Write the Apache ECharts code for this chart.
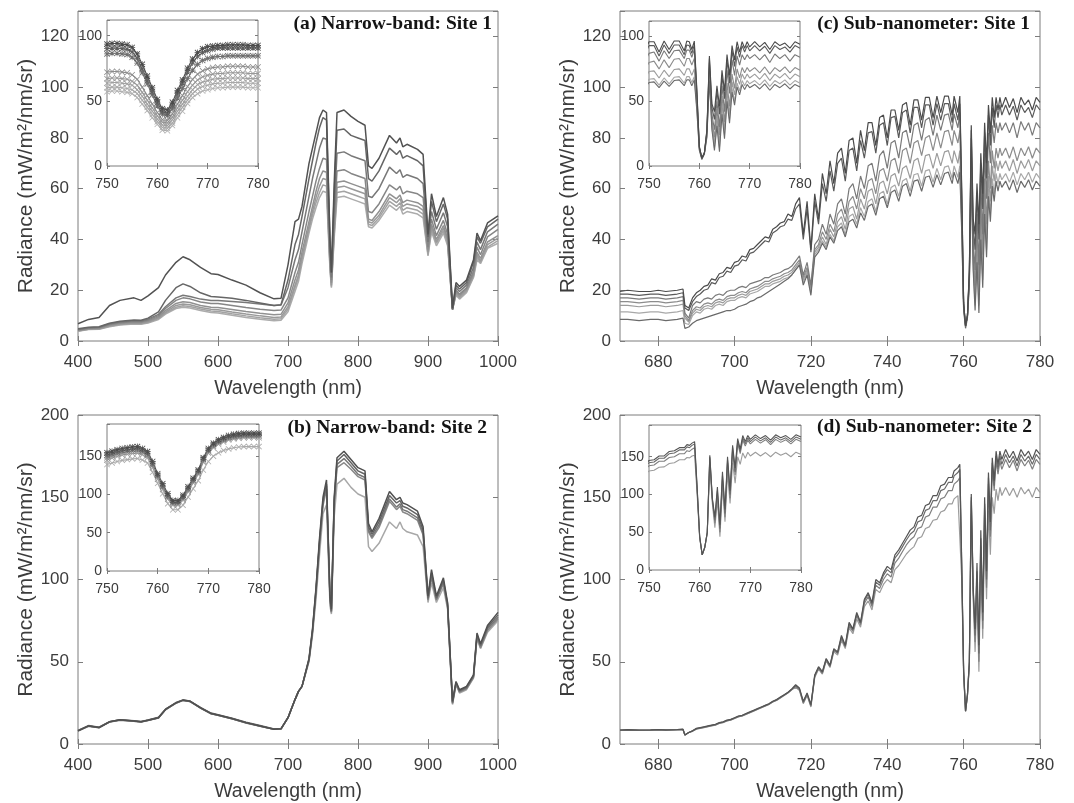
<!DOCTYPE html>
<html><head><meta charset="utf-8">
<script src="https://cdn.jsdelivr.net/npm/echarts@6/dist/echarts.min.js"></script>
<style>html,body{margin:0;padding:0;background:#fff}#c{width:1074px;height:803px}</style>
</head><body><div id="c"></div>
<script>
// ---------- Narrow-band wavelengths (panels a, b) ----------
const NB_X = [400,415,430,445,460,480,490,500,515,525,540,550,560,575,590,600,620,640,660,680,690,
  700,710,715,720,730,735,740,745,750,755,
  760,762,766,770,780,790,800,810,815,820,
  830,845,855,860,864,870,885,893,900,905,
  912,922,928,935,940,945,955,965,970,975,
  985,1000];
// Panel (a) site 1 narrow-band spectra
const A1 = [6.8,8.5,9.3,14,16,17,16,17.8,21,26,31,33.2,32,29,26.5,26.2,24,22,19,16.6,16.8,
  30,47,48,53,70,76,82,88,91,90, 40,27,62,90,91,88.5,86.5,85,69,68,
  72,81,78,80,76.5,77.5,75.5,73.5,42,58, 49,56.5,50,13,23,21.5,24,32,42.5,39.5, 46.5,49.3];
const A2 = [4.8,5.4,5.6,7,7.8,8.3,8.2,9,11.5,16,21,22.5,21.5,19,17.5,17.3,16.8,16,15,14,14.3,
  24,38,42,49,64,71,78,84,88,87, 39,27,58,83,83.5,81,80,79,64,63,
  67,76,73.5,75,72,73,71,69,41,55, 47,54,48,12.5,22,20.5,23,31,41,38.5, 45,48];
const A3 = [4.5,5.2,5.4,6.8,7.5,8,7.9,8.6,10.5,13.5,17,18,17.5,16.5,16,16,15.6,15.2,14.6,14,14.2,
  21,32,36,43,57,64,70,76,80,79.5, 36,25,52,74,74.5,73,72,71,57,56.5,
  60,68.5,66,67.5,64.5,65.5,64,62,39,51, 44,50.5,45,12.5,21,19.5,22,29,39,36, 43,46];
const A4 = [4.3,5,5.2,6.5,7.2,7.7,7.6,8.2,10,12.8,16,17,16.6,15.4,14.8,14.8,14,13.2,12.5,12,12.2,
  17,27,31,38,51,57,63,68,72,71.5, 33,24,48,67,67.5,66,65,64,51,50.5,
  54,61.5,59.5,61,58,59,58,56.5,37,48, 41.5,47.5,42,12.5,20,18.5,21,27.5,37,34, 41,44];
const A5 = [4.2,4.9,5,6.3,7,7.4,7.3,7.9,9.5,12,14.8,15.5,15.2,14,13.3,13.2,12.4,11.6,10.9,10.3,10.5,
  15,24,28,35,47,53,59,64,67,66.5, 31,23,45,62.5,63,62,61,60,48,47.5,
  51,58,56,57.5,54.5,55.5,54.5,53,36,46, 40,45.5,40.5,12.5,19.5,18,20.5,26.5,35,32.5, 39,41.5];
const A6 = [4,4.7,4.8,6,6.7,7.1,7,7.6,9.1,11.4,14,14.6,14.3,13.2,12.5,12.3,11.4,10.6,9.9,9.3,9.5,
  13.5,22,26,33,45,51,56.5,61,64,63.5, 30,22,43.5,60.5,61,60,59,58,47,46.5,
  49.5,56.5,54.5,56,53,54,53,51.5,35,45, 39,44.5,39.5,12.5,19,17.5,20,26,34,31.5, 38,40.5];
const A7 = [3.9,4.6,4.7,5.8,6.5,6.9,6.8,7.3,8.8,11,13.3,13.9,13.6,12.6,11.8,11.6,10.7,9.9,9.2,8.6,8.8,
  12.5,21,25,32,44,49.5,54.5,58.5,61.5,61, 29,21.5,42,58.5,59,58,57,56,46,45.5,
  48.5,55,53,54.5,51.5,52.5,51.5,50,34,44, 38.5,43.5,38.5,12.5,18.5,17,19.5,25.5,33,31, 37,39.5];
const A8 = [3.8,4.5,4.6,5.6,6.3,6.7,6.6,7.1,8.5,10.6,12.8,13.3,13,12,11.2,11,10.1,9.3,8.6,8,8.2,
  11.5,19.5,23.5,30.5,42.5,48,52.5,56.5,59,58.5, 28,21,40.5,56.5,57,56,55,54,45,44.5,
  47.5,53.5,51.5,53,50,51,50,48.5,33.5,43, 37.5,42.5,37.5,12.5,18,16.5,19,25,32,30.5, 36.5,38.5];
// Panel (b) site 2 narrow-band spectra
const B1 = [8,11,10,13.5,14.7,14,13.5,14.5,16,21,25,26.7,26,22,18.6,17.6,15.5,13,11,9,9.2,
  16,27,32,35,52,70,95,125,150,160.5, 90,82,150,174,178,173,168,166,134,129,
  137,153.5,148.5,150,146.5,145.5,141.5,132,90,106, 90,101,86,26,38,33,35,42,67.5,61, 72,80];
const B2 = [8.2,11.2,10.2,13.6,14.8,14.2,13.7,14.6,16.2,21.2,25.2,26.8,26.1,22.2,18.8,17.8,15.6,13.2,11.2,9.2,9.4,
  16,27,32,35,51.5,69,94,123,148,158, 89,81,148,172,176,171,166,164,132,127.5,
  135,151,146.5,148,144.5,143.5,139.5,130,89,104, 89,99.5,85,25.5,37.5,32.5,34.5,41.5,66.5,60, 71,78.5];
const B3 = [7.9,10.8,9.9,13.3,14.5,13.9,13.4,14.3,15.8,20.8,24.8,26.5,25.8,21.8,18.4,17.4,15.3,12.8,10.8,8.9,9.1,
  16,27,32,35,51,68.5,93,122,147,157, 88,80.5,147,170,173.5,169,164,162,130,126,
  133,149,144,146,142.5,141.5,137.5,128,88,102.5, 88,98.5,84,25,37,32,34,41,66,59.5, 70,77];
const B4 = [8.1,11,10.1,13.5,14.6,14,13.5,14.4,16,21,25,26.6,25.9,22,18.5,17.5,15.4,12.9,10.9,9,9.2,
  16,27,32,35,51,68,92,121,145,155, 87,80,145,168,171,167,162.5,160.5,129,125,
  131.5,147.5,142.5,144.5,141,140,136,127,87.5,101.5, 87.5,97.5,83.5,24.5,36.5,31.5,33.5,40.5,65,58.5, 69,76];
const B5 = [8,10.9,10,13.4,14.6,13.9,13.4,14.4,15.9,20.9,24.9,26.5,25.9,21.9,18.5,17.5,15.4,12.9,10.9,9,9.2,
  16,27,32,35,50,66,88,115,140,145.5, 84,79,138,158,161.5,156,152,150,120,117,
  122,135,131,135,131,129,127,120,86,98, 86,95,82,24,36,31,33,40,64,58, 68,75];

// ---------- Narrow-band insets (750-780 nm, 1 nm) ----------
const NB_IX = [750,751,752,753,754,755,756,757,758,759,760,761,762,763,764,765,766,767,768,769,770,771,772,773,774,775,776,777,778,779,780];
const AI1 = [93.5,94,94,93.5,93, 91,86,78,69,60, 51,44,43,49,58, 66,75,82,87,90, 91.5,92,92.5,92.5,93, 93,93,93,92.5,92.5, 92.5];
const AI2 = [90,90.5,90.5,90,89.5, 87.5,82.5,74.5,65.5,57, 48.5,41.5,40.5,46.5,55.5, 63.5,72,79,84,87, 88.5,89.5,90.5,90.5,90.5, 90.5,90.5,90.5,90.5,90.5, 90.5];
const AI3 = [86,86.5,86.5,86,85.5, 83.5,79,71.5,63,54.5, 46,39.5,38.5,44,52, 59.5,67,73.5,78,81, 82.5,83.5,84,84,84.5, 84.5,84.5,84.5,84.5,84.5, 84.5];
const AI4 = [72,72.5,72.5,72,71.5, 70,66.5,60.5,54,47.5, 41,35.5,35,40,47.5, 54,61,66.5,70.5,73, 74.5,75.5,76,76,76.5, 76.5,76.5,76.5,76,76, 76];
const AI5 = [67,67.5,67.5,67,66.5, 65,62,56.5,50.5,44.5, 38.5,33.5,33,37.5,44.5, 50.5,57,62,66,68.5, 69.5,70.5,71,71,71.5, 71.5,71.5,71.5,71,71, 71];
const AI6 = [63.5,64,64,63.5,63, 62,58.5,53.5,47.5,42, 36,31.5,31,35.5,42, 47.5,53.5,58.5,62.5,64.5, 65.5,66.5,67,67,67.5, 67.5,67.5,67.5,67,67, 67];
const AI7 = [60,60.5,60.5,60,59.5, 58.5,55.5,50.5,45,39.5, 34,29.5,29,33,39.5, 45,50.5,55.5,59,61, 62,63,63.5,63.5,64, 64,64,64,63.5,63.5, 63.5];
const AI8 = [57,57.5,57.5,57,56.5, 55.5,52.5,47.5,42.5,37, 32,27.5,27,31,37, 42,48,52.5,55.5,57.5, 58.5,59.5,60,60,60.5, 60.5,60.5,60.5,60,60, 60];
const BI1 = [154.5,156.5,158.5,160,161, 162,162.5,160,156,143, 127,114,101,92,92, 99,110,121,132,148, 160,167,171.5,174.5,177, 178.5,179.5,180,180,180, 180];
const BI2 = [151,153,155,157,158, 159,159.5,157,153,140, 125,111,98,90,90, 96.5,107.5,119,130,146, 158,165,169.5,172.5,175, 176.5,177.5,178,178,178, 178];
const BI3 = [148,150.5,152.5,154.5,155.5, 156.5,157,155,151,138, 123,109,96,88,88, 94.5,105.5,117,128,144, 156,163,167.5,170.5,173, 174.5,175.5,176,176,176, 176];
const BI4 = [145,147.5,149.5,151.5,152.5, 153.5,154,152,148,135, 120,106.5,94,86,86, 92.5,103.5,115,126,142, 154,161,165.5,168.5,171, 172.5,173.5,174,174,174, 174];
const BI5 = [139,141,143,144.5,145.5, 146.5,147,145,141,129, 114.5,101,88,80,80, 86,96.5,107.5,118,132, 143,150,154.5,157.5,159.5, 161,162,162.5,162.5,162.5, 162.5];

// ---------- Sub-nanometer wavelengths (panels c, d) ----------
const SN_X = [670,672,675,678,680,682,685,686.5,687,688,
  689,690,691,692,693,694,695,696,697,698,699,700,701,702,703,704,705,706,707,708,709,710,711,712,713,714,715,716,717,
  718,719,720,721,722,723,724,725,726,727,728,729,730,731,732,733,734,735,736,737,738,739,740,741,742,743,744,745,746,747,748,749,750,751,752,753,754,755,756,757,
  757.5,758,758.5,759,759.5,760,760.5,761,761.5,762,762.5,763,763.5,764,764.5,765,765.5,766,766.5,767,767.5,768,768.5,769,769.5,770,
  771,772,773,774,775,776,777,778,779,780];
// Panel (c) site 1 sub-nanometer spectra
const C1 = [19.5,20,19.5,19.5,20,19.5,20,20.5,14,13,
  17,19,20,21.5,22,24.5,24,26.5,27,29, 28.5,31,31.5,33.5,33,36,36.5,38,39.5,41, 40.5,44,45,46.5,47,50,49,54,56.5,
  42,55,36,58,48,66,58,71,62,74, 76,66,79,80,70,83,75,86,86,77, 88,89,80,91,91,83,93,94,85,95, 95,87,96,96,88,96.5,90,96.5,96.5,89,
  96.5,96,90,96.5,60,15,6,10,28,85, 48,42,62,46,74,58,86,70,93,82, 96,88,96,91,96,92,
  96,92,95.5,90,96,93,95,91,96,94];
const C2 = [18.5,18.5,18,18.5,18.5,18,18.5,19,13,12,
  15.5,17.5,18.5,20,20.5,23,22.5,25,25.5,27.5, 27,29.5,30,32,31.5,34.5,35,36.5,38,39.5, 39,42.5,43.5,45,45.5,48,47.5,52,54,
  40,52,35,55,46,62,55,67,59,70, 72,63,75,76,67,79,72,82,82.5,74, 85,86,77,88,88.5,80,90,91,82,92, 92,84,93,93,85,93.5,87,93.5,93.5,86,
  93.5,93,87,93.5,58,15,6,10,27,83, 45,36,58,40,70,52,82,64,89,77, 92,84,93,88,93,89,
  93,89,92.5,87,93,90,92,88,93,91];
const C3 = [17,17,16.5,17,17,16.5,17,17.5,11,9,
  14,15.5,15,16.5,17,16.5,18,18.5,18,19.5, 20,20,21,21.5,21,22.5,23,23.5,24,25, 25,26,26.5,27,28,28.5,29.5,31.5,33.5,
  26,31,22,38,40,46,42,50,46,54, 56,50,60,62,56,65,60,69,70,63, 73,75,68,78,79,72,82,83,76,85, 86,79,87,88,81,89,83,89,89.5,83,
  89.5,89.5,84,90,55,14,6,10,26,80, 40,28,50,30,62,42,74,56,82,70, 85,78,86,82,86,83,
  86,82,86,80,86.5,83,86,81,86,84];
const C4 = [15.5,15.5,15,15.5,15.5,15,15.5,16,10,8,
  12,13.5,13,14.5,15,14.5,16,16.5,16,17.5, 18,18,19,19.5,19,20.5,21,21.5,22.5,23.5, 23.5,24.5,25,25.5,26.5,27,28,30,32,
  25,29,21,36,38,43,40,46,43,50, 52,47,55,57,52,60,56,63,64,58, 67,68,63,71,72,66,75,76,70,78, 79,73,80,81,75,82,76,82.5,83,77,
  83,83,78,83,52,14,6,10,25,76, 36,22,44,24,54,34,64,46,71,60, 75,68,76,72,76,73,
  76,72,76.5,71,76,73,76.5,72,76,74];
const C5 = [14,14,13.5,14,14,13.5,14,14.5,9,7.5,
  11,12.5,12,13.5,14,13.5,15,15.5,15,16.5, 17,17,18,18.5,18,19.5,20,20.5,21.5,22.5, 22.5,23.5,24,24.5,25.5,26,27,29,31,
  24,28,20,35,37,41,38,44,41,47, 49,44,52,53,48,56,52,59,60,54, 62,63,58,65,66,61,68,69,64,71, 72,66,73,73.5,68,74,69,74.5,75,70,
  75,75,70,75,48,13,6,10,24,72, 33,17,38,18,48,28,58,40,65,55, 69,63,71,67,71,68,
  71,67,71.5,66,71,68,71.5,67,71,69];
const C6 = [11.5,11.5,11,11.5,11.5,11,11.5,12,7,6.5,
  10,11.5,11,12.5,13,12.5,14,14.5,14,15.5, 16,16,17,17.5,17,18.5,19,19.5,20.5,21.5, 21.5,22.5,23,23.5,24.5,25,26,28,30,
  23,27,19,34,36,39.5,37,42,39.5,45, 46.5,42,49,50,46,52.5,49,55,56,51, 58,59,54,60.5,61.5,57,63,64,59,65.5, 66,61,67,67.5,62.5,68,63.5,68.5,69,64,
  69,69,64.5,69,45,13,6,10,23,68, 30,14,34,14,43,24,53,36,60,50, 64,58,66,62,66,63.5,
  66,62.5,66.5,61.5,66,63.5,66.5,62.5,66,64];
const C7 = [8.5,8.5,8,8.5,8.5,8,8.5,9,5,5.5,
  7,8,8.5,9,9.5,10,10.5,11,11.5,12, 12,12.5,13.5,14,14.5,15.5,16,17,17.5,18.5, 19.5,20.5,21.5,22.5,23.5,24.5,26,28,30,
  22,26,18,33,35,38.5,36,41,38.5,43.5, 45,41,47,48,44.5,50.5,47.5,53,54,49.5, 56,57,52.5,58.5,59.5,55,61,62,57,63, 63.5,59,64.5,65,60.5,65.5,61.5,66,66.5,62,
  66.5,66.5,62,66.5,43,12,5,9,22,66, 28,12,31,11,40,21,50,33,57,47, 61,55,63,59,63,60.5,
  63,59.5,63.5,58.5,63,60.5,63.5,59.5,63,61];
// Panel (d) site 2 sub-nanometer spectra
const D1 = [8.5,8.7,8.5,8.6,8.8,8.6,8.8,9,5.5,7,
  8,9.5,10,10.5,11,11.5,12,13,13.5,14.5, 15,16,17,17.5,18.5,19.5,20.5,21.5,22.5,23.5, 24.5,26,27,28.5,30,31.5,33.5,36,34,
  26,31,24,42,47,44,52,48,58,56, 66,60,74,70,80,74,88,92,86,100, 98,104,108,106,115,118,122,126,130,132, 138,139,145,146,151,151,157,158,162,162,
  166,165,168,170,110,45,20,30,50,152, 95,70,110,60,130,80,150,105,165,135, 174,160,178,170,178,173,
  179,174,178,172,179,175,178,173,179,176];
const D2 = [8.4,8.6,8.4,8.5,8.7,8.5,8.7,8.9,5.5,7,
  8,9.3,9.8,10.3,10.8,11.3,11.8,12.8,13.3,14.3, 14.8,15.8,16.8,17.3,18.3,19.3,20.3,21.3,22.3,23.3, 24.3,25.8,26.8,28.3,29.8,31.3,33.3,35.5,33.5,
  25.5,30.5,23.5,41.5,46.5,43.5,51.5,47.5,57.5,55.5, 65,59.5,73,69.5,79,73.5,87,91,85,98.5, 96.5,102.5,106,104,113,116,120,124,127.5,129.5, 135,136,142,143,148,148,154,155,159,159,
  163,162,165,167,108,44,20,30,50,150, 94,66,105,55,125,75,146,100,162,130, 171,157,175,167,175,170,
  176,171,175,169,176,172,175,170,176,173];
const D3 = [8.3,8.5,8.3,8.4,8.6,8.4,8.6,8.8,5.5,7,
  7.8,9.1,9.6,10.1,10.6,11.1,11.6,12.6,13.1,14.1, 14.6,15.6,16.6,17.1,18.1,19.1,20.1,21.1,22.1,23.1, 24.1,25.6,26.6,28.1,29.6,31.1,33.1,35,33,
  25,30,23,41,46,43,51,47,57,55, 64,59,72,68.5,78,72.5,85.5,89.5,83.5,96.5, 94.5,100,103.5,101.5,110,113,117,121,124,126, 131,132,138,139,144,144,149,150,154,154,
  158,157,160,162,105,43,20,30,49,148, 92,62,100,50,120,70,142,95,158,126, 168,154,172,164,172,167,
  173,168,172.5,166,173,169,172.5,167,173,170];
const D4 = [8.2,8.4,8.2,8.3,8.5,8.3,8.5,8.7,5.5,7,
  7.7,9,9.5,10,10.5,11,11.5,12.5,13,14, 14.5,15.5,16.5,17,18,19,20,21,22,23, 24,25.5,26.5,28,29.5,31,33,34.5,32.5,
  24.5,29.5,22.5,40.5,45.5,42.5,50.5,46.5,56,54, 63,58,70.5,67,76,71,83.5,87,81.5,94, 92,97,100,98,106,108.5,112,115.5,118,120, 125,126,131,132,136,136.5,141,142,146,146,
  149,148.5,151,152,100,42,20,29,48,140, 88,56,92,44,110,64,128,88,142,115, 150,140,155,148,156,151,
  156,151,155.5,150,156,152,155,150,156,153];

// ---------- Tick values and labels ----------
const NB_XTICKS = [400,500,600,700,800,900,1000];
const SN_XTICKS = [680,700,720,740,760,780];
const INSET_XTICKS = [750,760,770,780];
const TITLES = ['(a) Narrow-band: Site 1','(b) Narrow-band: Site 2','(c) Sub-nanometer: Site 1','(d) Sub-nanometer: Site 2'];
const X_NAME = 'Wavelength (nm)';
const Y_NAME = 'Radiance (mW/m\u00B2/nm/sr)';

// ---------- Build chart ----------
const FONT = "'Liberation Sans', Arial, sans-serif";
const BOX = '#7c7c7c', LBL = '#3c3c3c';
const grids = [], xAxes = [], yAxes = [], series = [];

function panel(p) {
  const gi = grids.length;
  const inset = !!p.inset;
  const zz = inset ? 11 : 1;
  grids.push({left:p.left, top:p.top, width:p.width, height:p.height, show:true,
    borderColor:BOX, borderWidth:1, backgroundColor:'#fff', z: inset ? 10 : 0});
  const fs = inset ? 14 : 17;
  const tl = inset ? 3 : 5;
  const tick = (vals) => ({show:true, inside:true, length:tl, lineStyle:{color:BOX, width:1},
    customValues: vals});
  const xlab = {show:true, color:LBL, fontFamily:FONT, fontSize:fs, margin: inset ? 11 : 13,
    customValues: p.xticks, formatter: v => String(v)};
  xAxes.push({gridIndex:gi, type:'value', position:'bottom', min:p.xmin, max:p.xmax, z:zz,
    axisLine:{show:false}, axisTick:tick(p.xticks), axisLabel:xlab, splitLine:{show:false},
    name: inset ? '' : X_NAME, nameLocation:'middle', nameGap:38,
    nameTextStyle:{color:LBL, fontFamily:FONT, fontSize:19.5}});
  xAxes.push({gridIndex:gi, type:'value', position:'top', min:p.xmin, max:p.xmax, z:zz,
    axisLine:{show:false}, axisTick:tick(p.xticks), axisLabel:{show:false}, splitLine:{show:false}});
  const yint = p.yint;
  yAxes.push({gridIndex:gi, type:'value', position:'left', min:0, max:p.ymax, interval:yint, z:zz,
    axisLine:{show:false}, axisTick:{show:true, inside:true, length:tl, lineStyle:{color:BOX}},
    axisLabel:{color:LBL, fontFamily:FONT, fontSize:fs, margin: inset ? 5 : 9,
      formatter: v => (Math.abs(v % yint) < 1e-9 ? String(v) : '')},
    splitLine:{show:false},
    name: inset ? '' : Y_NAME, nameLocation:'middle', nameGap:35,
    nameTextStyle:{color:LBL, fontFamily:FONT, fontSize:21}});
  yAxes.push({gridIndex:gi, type:'value', position:'right', min:0, max:p.ymax, interval:yint, z:zz,
    axisLine:{show:false}, axisTick:{show:true, inside:true, length:tl, lineStyle:{color:BOX}},
    axisLabel:{show:false}, splitLine:{show:false}});
  return {xi: xAxes.length - 2, yi: yAxes.length - 2, z: inset ? 12 : 2};
}

function pts(xs, ys) { return xs.map((x, i) => [x, ys[i]]); }
function addLine(ax, xs, ys, color, w, extra) {
  series.push(Object.assign({type:'line', xAxisIndex:ax.xi, yAxisIndex:ax.yi, data:pts(xs, ys),
    symbol:'none', showSymbol:false, lineStyle:{color:color, width:w}, itemStyle:{color:color},
    z:ax.z, silent:true, animation:false, clip:true, emphasis:{disabled:true}}, extra || {}));
}
const STAR = 'path://M4.4,0L5.6,0L5.6,10L4.4,10Z M0,4.4L10,4.4L10,5.6L0,5.6Z M0,1L1,0L5,4L9,0L10,1L6,5L10,9L9,10L5,6L1,10L0,9L4,5Z';
const XMARK = 'path://M0,0.9L0.9,0L5,4.1L9.1,0L10,0.9L5.9,5L10,9.1L9.1,10L5,5.9L0.9,10L0,9.1L4.1,5Z';
const mk = (sym) => ({symbol:sym, showSymbol:true, symbolSize:6});

// Panel (a)
const pa = panel({left:78, top:11, width:420, height:330, xmin:400, xmax:1000, xticks:NB_XTICKS, ymax:130, yint:20});
[[A8,'#acacac'],[A7,'#a3a3a3'],[A6,'#9a9a9a'],[A5,'#919191'],[A4,'#868686'],[A3,'#787878'],[A2,'#666666'],[A1,'#525252']]
  .forEach(([d, c]) => addLine(pa, NB_X, d, c, 1.5));
const pai = panel({left:107, top:20, width:151, height:146, xmin:750, xmax:780, xticks:INSET_XTICKS, ymax:112, yint:50, inset:true});
[[AI8,'#b0b0b0',XMARK],[AI7,'#a8a8a8',XMARK],[AI6,'#a0a0a0',XMARK],[AI5,'#989898',XMARK],[AI4,'#8c8c8c',XMARK],[AI3,'#6e6e6e',STAR],[AI2,'#5e5e5e',STAR],[AI1,'#4a4a4a',STAR]]
  .forEach(([d, c, s]) => addLine(pai, NB_IX, d, c, 1.1, mk(s)));

// Panel (b)
const pb = panel({left:78, top:415, width:420, height:330, xmin:400, xmax:1000, xticks:NB_XTICKS, ymax:200, yint:50});
[[B5,'#a8a8a8'],[B4,'#888888'],[B3,'#777777'],[B2,'#646464'],[B1,'#505050']]
  .forEach(([d, c]) => addLine(pb, NB_X, d, c, 1.5));
const pbi = panel({left:107, top:424, width:152, height:147, xmin:750, xmax:780, xticks:INSET_XTICKS, ymax:192, yint:50, inset:true});
[[BI5,'#aaaaaa',XMARK],[BI4,'#999999',XMARK],[BI3,'#858585',XMARK],[BI2,'#666666',STAR],[BI1,'#4c4c4c',STAR]]
  .forEach(([d, c, s]) => addLine(pbi, NB_IX, d, c, 1.1, mk(s)));

// Panel (c)
const pc = panel({left:620, top:11, width:420, height:330, xmin:670, xmax:780, xticks:SN_XTICKS, ymax:130, yint:20});
const cLines = [[C6,'#a8a8a8'],[C5,'#9c9c9c'],[C4,'#8c8c8c'],[C3,'#7a7a7a'],[C7,'#6a6a6a'],[C2,'#5a5a5a'],[C1,'#4b4b4b']];
cLines.forEach(([d, c]) => addLine(pc, SN_X, d, c, 1.2));
const pci = panel({left:649, top:21, width:151, height:145, xmin:750, xmax:780, xticks:INSET_XTICKS, ymax:112, yint:50, inset:true});
cLines.forEach(([d, c]) => addLine(pci, SN_X, d, c, 1.1));

// Panel (d)
const pd = panel({left:620, top:415, width:420, height:330, xmin:670, xmax:780, xticks:SN_XTICKS, ymax:200, yint:50});
const dLines = [[D4,'#9c9c9c'],[D3,'#808080'],[D2,'#6a6a6a'],[D1,'#545454']];
dLines.forEach(([d, c]) => addLine(pd, SN_X, d, c, 1.2));
const pdi = panel({left:649, top:425, width:152, height:145, xmin:750, xmax:780, xticks:INSET_XTICKS, ymax:192, yint:50, inset:true});
dLines.forEach(([d, c]) => addLine(pdi, SN_X, d, c, 1.1));

const titleFont = "bold 19.5px 'Liberation Serif', 'Times New Roman', serif";
const tpos = [[492, 24], [487, 428], [1030, 24], [1032, 427]];
const graphic = TITLES.map((t, i) => ({type:'text', x:tpos[i][0], y:tpos[i][1], z:100,
  style:{text:t, font:titleFont, fill:'#141414', align:'right', verticalAlign:'middle', textAlign:'right', textVerticalAlign:'middle'}}));

const chart = echarts.init(document.getElementById('c'), null, {renderer:'canvas'});
chart.setOption({animation:false, backgroundColor:'#fff', textStyle:{fontFamily:FONT},
  grid:grids, xAxis:xAxes, yAxis:yAxes, series:series, graphic:graphic});
</script></body></html>
